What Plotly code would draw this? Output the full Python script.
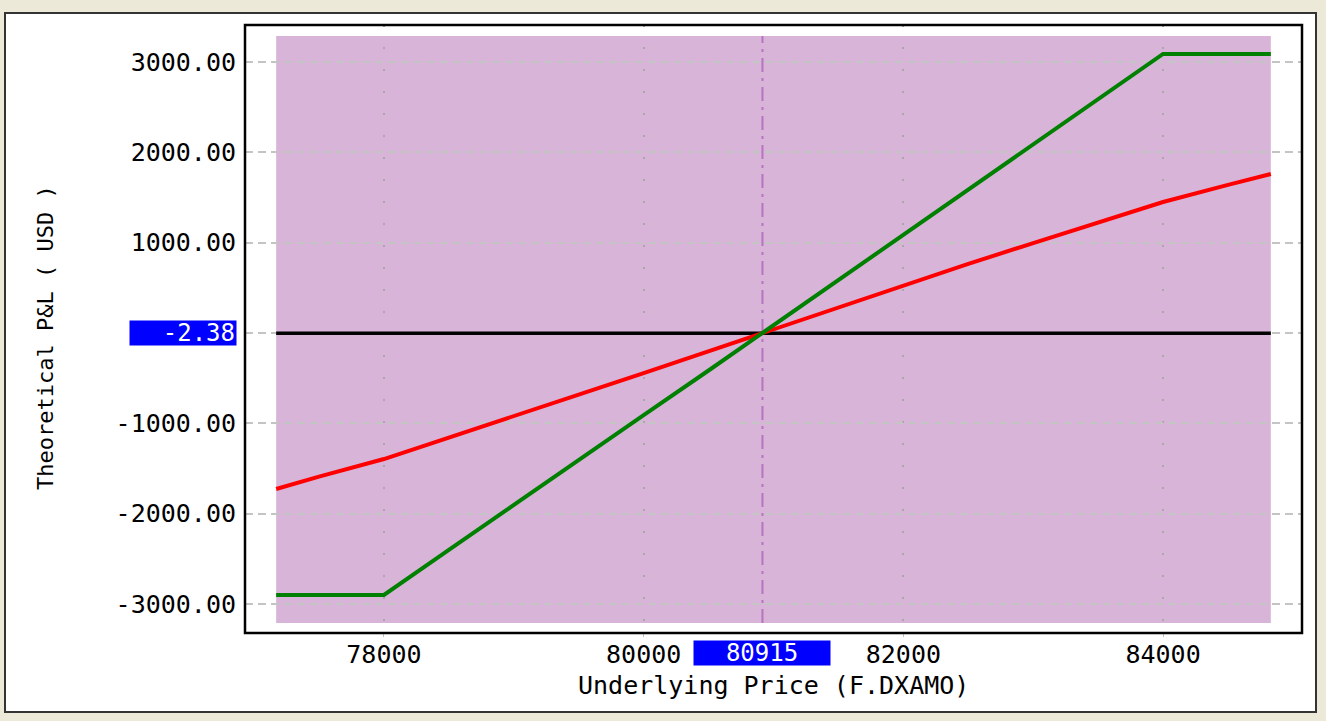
import plotly.graph_objects as go

# ---- data ----
price = [77170, 77500, 78000, 78500, 79000, 79500, 80000, 80500, 80915,
         81500, 82000, 82500, 83000, 83500, 84000, 84500, 84830]
pnl_red = [-1727, -1590, -1395, -1160, -920, -682, -443, -200, -2.38,
           287, 531, 765, 996, 1225, 1450, 1640, 1760]
pnl_green = [-2900, -2900, -2900, -2400, -1900, -1405, -910, -415, 0,
             582, 1080, 1583, 2085, 2588, 3090, 3090, 3090]
pnl_zero = [-2.38] * len(price)

current_price = 80915
current_pnl = -2.38
x_ticks = [78000, 80000, 82000, 84000]
y_ticks = [-3000, -2000, -1000, 0, 1000, 2000, 3000]
y_tick_text = ["-3000.00", "-2000.00", "-1000.00", "", "1000.00", "2000.00", "3000.00"]
shade_x = [77170, 84830]
shade_y = [-3210, 3288]
x_range = [76930, 85070]
y_range = [-3321, 3410]

FONT = "DejaVu Sans Mono"

fig = go.Figure()
fig.add_trace(go.Scatter(x=price, y=pnl_zero, mode="lines",
                         line=dict(color="#000000", width=3.5), hoverinfo="skip"))
fig.add_trace(go.Scatter(x=price, y=pnl_red, mode="lines",
                         line=dict(color="#FF0000", width=4), hoverinfo="skip"))
fig.add_trace(go.Scatter(x=price, y=pnl_green, mode="lines",
                         line=dict(color="#008000", width=4), hoverinfo="skip"))

L, R, T, B = 245, 24, 25, 88
W, H = 1326, 721
pw, ph = W - L - R, H - T - B

def px_x(p):
    return (p - L) / pw

def px_y(p):
    return (H - B - p) / ph

shapes = [
    # white panel
    dict(type="rect", xref="paper", yref="paper",
         x0=px_x(5), x1=px_x(1316), y0=px_y(712), y1=px_y(13),
         fillcolor="#FFFFFF", line=dict(color="#333333", width=2), layer="below"),
    # purple shading
    dict(type="rect", xref="x", yref="y",
         x0=shade_x[0], x1=shade_x[1], y0=shade_y[0], y1=shade_y[1],
         fillcolor="#D9B4D9", line=dict(width=0), layer="below"),
    # crosshair vertical
    dict(type="line", xref="x", yref="y",
         x0=current_price, x1=current_price, y0=shade_y[0], y1=shade_y[1],
         line=dict(color="#B574BF", width=2, dash="14px,6px,3px,6px"), layer="below"),
    # plot box border
    dict(type="rect", xref="paper", yref="paper", x0=0, x1=1, y0=0, y1=1,
         line=dict(color="#000000", width=2.5), layer="above"),
]

annotations = [
    dict(text="-2.38", x=0, xref="paper", y=current_pnl, yref="y",
         xanchor="right", yanchor="middle", xshift=-8, showarrow=False,
         bgcolor="#0000FF", width=104, height=22, align="right",
         font=dict(family=FONT, size=24, color="#FFFFFF")),
    dict(text="80915", x=current_price, xref="x", y=0, yref="paper",
         xanchor="center", yanchor="top", yshift=-7, showarrow=False,
         bgcolor="#0000FF", width=134, height=22, align="center",
         font=dict(family=FONT, size=24, color="#FFFFFF")),
    dict(text="Underlying Price (F.DXAMO)", x=0.5, xref="paper", y=px_y(685), yref="paper",
         xanchor="center", yanchor="middle", showarrow=False,
         font=dict(family=FONT, size=25, color="#000000")),
    dict(text="Theoretical P&L ( USD )", x=px_x(45), xref="paper", y=px_y(338), yref="paper",
         xanchor="center", yanchor="middle", showarrow=False, textangle=-90,
         font=dict(family=FONT, size=22, color="#000000")),
]

fig.update_layout(
    width=W, height=H,
    margin=dict(l=L, r=R, t=T, b=B),
    paper_bgcolor="#ECE9D8",
    plot_bgcolor="rgba(0,0,0,0)",
    showlegend=False,
    shapes=shapes,
    annotations=annotations,
    xaxis=dict(range=x_range, tickvals=x_ticks, ticktext=[str(v) for v in x_ticks],
               showgrid=True, gridcolor="#A8A8A8", gridwidth=1.5, griddash="2px,20px",
               zeroline=False, showline=False, ticks="outside", ticklen=3,
               tickcolor="#C0C0C0", ticklabelstandoff=-4,
               tickfont=dict(family=FONT, size=25, color="#000000")),
    yaxis=dict(range=y_range, tickvals=y_ticks, ticktext=y_tick_text,
               showgrid=True, gridcolor="#C4C4C4", gridwidth=1.5, griddash="8px,5px",
               zeroline=False, showline=False, ticks="", ticklabelstandoff=8,
               tickfont=dict(family=FONT, size=25, color="#000000")),
)

fig.write_html("out.html",
               config={"displayModeBar": False},
               post_script="document.body.style.margin='0';document.body.style.background='#ECE9D8';")
